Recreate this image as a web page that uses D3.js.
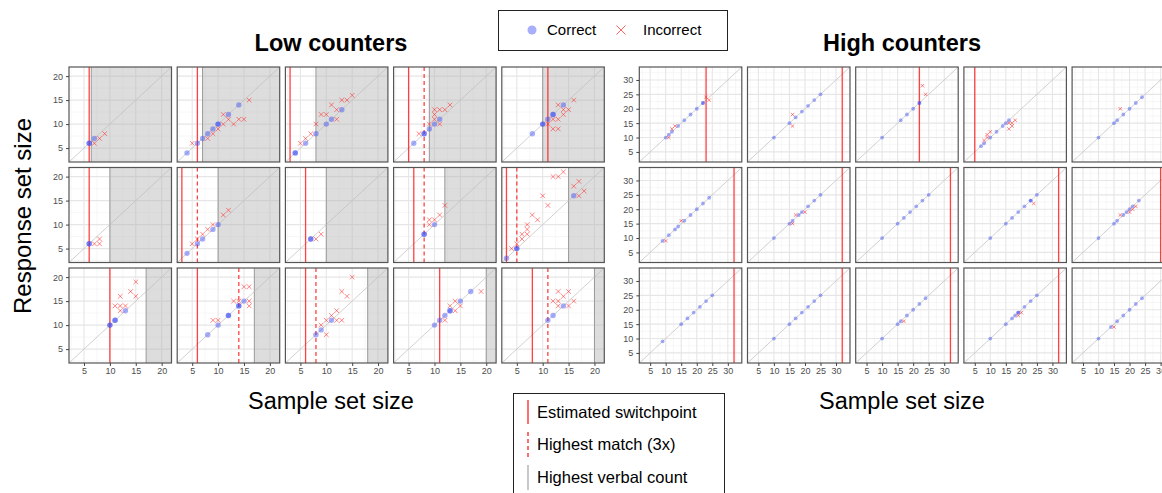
<!DOCTYPE html>
<html>
<head>
<meta charset="utf-8">
<script src="https://cdn.jsdelivr.net/npm/d3@7"></script>
<style>
  body { margin: 0; background: #fff; }
  svg { font-family: "Liberation Sans", Arial, sans-serif; }
</style>
</head>
<body>
<svg id="chart" width="1162" height="493"></svg>
<script>
// ---- data: Low counters (15 panels, row by row) ----
const lowSwitch = [6, 6, 3, 5, 11, 6, 3, 6, 6, 3, 10, 6, 6, 11, 8];
const lowMatch = [null, null, null, 8, null, null, 6, null, 8, 5, null, 14, 8, null, 11];
const lowVerbal = [6.4, 7, 8, 9, 10, 10, 10, 10, 12, 15, 17, 17, 18, 20, 20];
const lowCorrect = [
  [[6,6],[6,6],[7,7]],
  [[4,4],[6,6],[7,7],[8,8],[9,9],[10,10],[10,10],[12,12],[14,14]],
  [[4,4],[4,4],[6,6],[8,8],[10,10],[11,11],[13,13]],
  [[6,6],[8,8],[8,8],[9,9],[10,10],[11,11]],
  [[8,8],[10,10],[10,10],[11,11],[12,12],[12,12],[14,14]],
  [[6,6],[6,6]],
  [[4,4],[6,6],[7,7],[9,9],[10,10]],
  [[7,7],[7,7]],
  [[8,8],[8,8],[10,10]],
  [[3,3],[5,5],[5,5],[16,16]],
  [[10,10],[10,10],[11,11],[11,11],[13,13]],
  [[8,8],[10,10],[12,12],[12,12],[14,14],[14,14],[15,15]],
  [[8,8],[9,9],[11,11]],
  [[10,10],[11,11],[12,12],[13,13],[13,13],[15,15],[17,17]],
  [[11,11],[12,12],[14,14]]
];
const lowIncorrect = [
  [[7,6],[8,7],[9,8]],
  [[5,6],[8,7],[9,8],[10,9],[11,10],[11,12],[12,11],[13,10],[14,11],[15,11],[16,15]],
  [[5,6],[6,7],[7,8],[8,10],[9,12],[10,12],[11,14],[12,13],[12,11],[13,15],[14,15],[15,16]],
  [[7,8],[9,10],[10,11],[11,10],[10,12],[10,13],[11,13],[12,13],[13,14]],
  [[11,10],[12,11],[13,11],[12,9],[13,9],[13,14],[14,12],[14,13],[15,13],[16,15]],
  [[7,6],[8,6],[8,7]],
  [[5,6],[6,7],[7,8],[8,9],[9,10],[11,12],[12,13]],
  [[8,7],[9,8]],
  [[9,10],[9,11],[10,11],[11,12],[12,14]],
  [[4,5],[5,6],[6,7],[6,8],[7,8],[7,9],[7,10],[8,12],[9,11],[10,16],[11,14],[12,20],[13,20],[14,21],[16,18],[17,19],[17,16],[18,17]],
  [[11,14],[12,14],[13,14],[12,13],[12,16],[14,17],[15,19],[15,16]],
  [[9,11],[10,11],[13,15],[14,15],[15,18],[16,18],[16,15],[16,14]],
  [[9,10],[10,11],[10,8],[11,12],[12,13],[12,11],[13,11],[13,17],[14,16],[15,20]],
  [[12,11],[13,14],[14,15],[14,13],[15,14],[19,17]],
  [[12,15],[13,17],[13,15],[13,14],[14,16],[15,17],[15,14],[16,15]]
];

// ---- data: High counters ----
const highSwitch = [23, 32, 22, 5, 33, 32, 32, 32, 32, 30, 32, 32, 32, 32, 33];
const highCorrect = [
  [[10,10],[11,11],[12,12],[14,14],[16,16],[18,18],[20,20],[22,22],[22,22]],
  [[10,10],[15,15],[17,17],[19,19],[21,21],[23,23],[25,25]],
  [[10,10],[16,16],[18,18],[20,20],[22,22],[22,22]],
  [[7,7],[8,8],[10,10],[12,12],[14,14],[15,15],[16,16]],
  [[10,10],[15,15],[16,16],[18,18],[20,20],[22,22],[24,24]],
  [[9,9],[11,11],[13,13],[14,14],[16,16],[18,18],[20,20],[22,22],[24,24]],
  [[10,10],[15,15],[16,16],[18,18],[19,19],[21,21],[23,23],[25,25]],
  [[10,10],[15,15],[17,17],[19,19],[21,21],[23,23],[25,25]],
  [[10,10],[15,15],[17,17],[19,19],[21,21],[23,23],[23,23],[25,25]],
  [[10,10],[15,15],[16,16],[18,18],[19,19],[20,20],[21,21],[23,23]],
  [[9,9],[15,15],[17,17],[19,19],[21,21],[23,23],[25,25]],
  [[10,10],[15,15],[17,17],[19,19],[21,21],[23,23],[25,25]],
  [[10,10],[15,15],[16,16],[18,18],[20,20],[22,22],[24,24]],
  [[10,10],[15,15],[17,17],[18,18],[19,19],[19,19],[21,21],[23,23],[25,25]],
  [[10,10],[14,14],[16,16],[18,18],[20,20],[22,22],[24,24]]
];
const highIncorrect = [
  [[11,10],[12,13],[13,14],[23,24],[24,23]],
  [[16,18],[16,14]],
  [[23,28],[24,25]],
  [[8,9],[9,10],[9,11],[10,12],[16,15],[17,15],[17,14],[16,13],[18,16]],
  [[17,20]],
  [[10,9],[15,16]],
  [[16,15],[17,18],[20,19]],
  [],
  [[24,22]],
  [[17,18],[20,19],[21,20],[22,21]],
  [],
  [],
  [[17,16]],
  [[19,18],[20,19]],
  [[15,14]]
];

const lowTicks = [5, 10, 15, 20];
const highTicks = [5, 10, 15, 20, 25, 30];

// ---- layout ----
const svg = d3.select("#chart");
const panelW = 102.5;
const panelH = 95;
const stepX = 108.2;
const rowTops = [67, 167.5, 268];
const blue = "#3b4cf5";
const red = "#ff2020";

let clipId = 0;

function drawGroup(opt) {
  const x = d3.scaleLinear().domain(opt.domain).range([0, panelW]);
  const y = d3.scaleLinear().domain(opt.domain).range([panelH, 0]);
  const minor = opt.ticks.map((t) => t + 2.5).concat([opt.ticks[0] - 2.5]);

  for (let i = 0; i < 15; i++) {
    const row = Math.floor(i / 5);
    const col = i % 5;
    const g = svg
      .append("g")
      .attr("transform", `translate(${opt.left + col * stepX},${rowTops[row]})`);

    const id = "clip" + clipId++;
    g.append("clipPath").attr("id", id)
      .append("rect").attr("width", panelW).attr("height", panelH);
    const p = g.append("g").attr("clip-path", `url(#${id})`);

    p.append("rect").attr("width", panelW).attr("height", panelH).attr("fill", "#fff");

    // grid
    p.selectAll(".gminx").data(minor).enter().append("line")
      .attr("x1", (d) => x(d)).attr("x2", (d) => x(d))
      .attr("y1", 0).attr("y2", panelH)
      .attr("stroke", "#f2f2f2").attr("stroke-width", 0.6);
    p.selectAll(".gminy").data(minor).enter().append("line")
      .attr("y1", (d) => y(d)).attr("y2", (d) => y(d))
      .attr("x1", 0).attr("x2", panelW)
      .attr("stroke", "#f2f2f2").attr("stroke-width", 0.6);
    p.selectAll(".gmajx").data(opt.ticks).enter().append("line")
      .attr("x1", (d) => x(d)).attr("x2", (d) => x(d))
      .attr("y1", 0).attr("y2", panelH)
      .attr("stroke", "#e6e6e6").attr("stroke-width", 1.1);
    p.selectAll(".gmajy").data(opt.ticks).enter().append("line")
      .attr("y1", (d) => y(d)).attr("y2", (d) => y(d))
      .attr("x1", 0).attr("x2", panelW)
      .attr("stroke", "#e6e6e6").attr("stroke-width", 1.1);

    // highest verbal count
    if (opt.verbal && opt.verbal[i] != null) {
      const v = opt.verbal[i];
      p.append("rect")
        .attr("x", x(v)).attr("y", 0)
        .attr("width", panelW - x(v)).attr("height", panelH)
        .attr("fill", "#b3b3b3").attr("fill-opacity", 0.45);
      p.append("line")
        .attr("x1", x(v)).attr("x2", x(v)).attr("y1", 0).attr("y2", panelH)
        .attr("stroke", "#999").attr("stroke-width", 1);
    }

    // diagonal
    p.append("line")
      .attr("x1", x(opt.domain[0])).attr("y1", y(opt.domain[0]))
      .attr("x2", x(opt.domain[1])).attr("y2", y(opt.domain[1]))
      .attr("stroke", "#bdbdbd").attr("stroke-width", 0.7);

    // switchpoint + highest match
    if (opt.switchp[i] != null) {
      p.append("line")
        .attr("x1", x(opt.switchp[i])).attr("x2", x(opt.switchp[i]))
        .attr("y1", 0).attr("y2", panelH)
        .attr("stroke", red).attr("stroke-opacity", 0.85).attr("stroke-width", 1.3);
    }
    if (opt.match && opt.match[i] != null) {
      p.append("line")
        .attr("x1", x(opt.match[i])).attr("x2", x(opt.match[i]))
        .attr("y1", 0).attr("y2", panelH)
        .attr("stroke", red).attr("stroke-opacity", 0.85).attr("stroke-width", 1.3)
        .attr("stroke-dasharray", "4,3");
    }

    // points
    p.selectAll(".ok").data(opt.correct[i]).enter().append("circle")
      .attr("cx", (d) => x(d[0])).attr("cy", (d) => y(d[1]))
      .attr("r", opt.r)
      .attr("fill", blue).attr("fill-opacity", 0.45);
    const s = opt.s;
    p.selectAll(".bad").data(opt.incorrect[i]).enter().append("path")
      .attr("transform", (d) => `translate(${x(d[0])},${y(d[1])})`)
      .attr("d", `M${-s},${-s}L${s},${s}M${-s},${s}L${s},${-s}`)
      .attr("stroke", red).attr("stroke-opacity", 0.6).attr("stroke-width", 0.9)
      .attr("fill", "none");

    // border
    g.append("rect").attr("width", panelW).attr("height", panelH)
      .attr("fill", "none").attr("stroke", "#555").attr("stroke-width", 1.2);

    // axes
    if (col === 0) {
      const ay = g.append("g").call(d3.axisLeft(y).tickValues(opt.ticks).tickSize(3).tickPadding(3));
      styleAxis(ay);
    }
    if (row === 2) {
      const ax = g.append("g").attr("transform", `translate(0,${panelH})`)
        .call(d3.axisBottom(x).tickValues(opt.ticks).tickSize(3).tickPadding(2));
      styleAxis(ax);
    }
  }
}

function styleAxis(a) {
  a.select(".domain").remove();
  a.selectAll(".tick line").attr("stroke", "#444");
  a.selectAll(".tick text").attr("fill", "#4d4d4d").attr("font-size", 9)
    .attr("font-family", '"Liberation Sans", Arial, sans-serif');
}

drawGroup({
  left: 69, domain: [2.1, 21.9], ticks: lowTicks,
  switchp: lowSwitch, match: lowMatch, verbal: lowVerbal,
  correct: lowCorrect, incorrect: lowIncorrect, r: 2.7, s: 2.3
});
drawGroup({
  left: 639.3, domain: [1.5, 34.5], ticks: highTicks,
  switchp: highSwitch, match: null, verbal: null,
  correct: highCorrect, incorrect: highIncorrect, r: 1.9, s: 1.7
});

// ---- titles and axis labels ----
svg.append("text").attr("x", 331).attr("y", 51).attr("text-anchor", "middle")
  .attr("font-size", 23.5).attr("font-weight", "bold").text("Low counters");
svg.append("text").attr("x", 902).attr("y", 51).attr("text-anchor", "middle")
  .attr("font-size", 23.5).attr("font-weight", "bold").text("High counters");
svg.append("text").attr("transform", "translate(31,216) rotate(-90)")
  .attr("text-anchor", "middle").attr("font-size", 24).text("Response set size");
svg.append("text").attr("x", 331).attr("y", 409).attr("text-anchor", "middle")
  .attr("font-size", 23.5).text("Sample set size");
svg.append("text").attr("x", 902).attr("y", 409).attr("text-anchor", "middle")
  .attr("font-size", 23.5).text("Sample set size");

// ---- top legend ----
const lg = svg.append("g");
lg.append("rect").attr("x", 498.5).attr("y", 10.5).attr("width", 229).attr("height", 40)
  .attr("fill", "#fff").attr("stroke", "#222").attr("stroke-width", 1);
lg.append("circle").attr("cx", 532).attr("cy", 30).attr("r", 4.5)
  .attr("fill", blue).attr("fill-opacity", 0.45);
lg.append("text").attr("x", 547).attr("y", 35).attr("font-size", 15).text("Correct");
lg.append("path").attr("transform", "translate(621,30)")
  .attr("d", "M-4.5,-4.5L4.5,4.5M-4.5,4.5L4.5,-4.5")
  .attr("stroke", red).attr("stroke-opacity", 0.7).attr("stroke-width", 1);
lg.append("text").attr("x", 643).attr("y", 35).attr("font-size", 15).text("Incorrect");

// ---- bottom legend ----
const lb = svg.append("g");
lb.append("rect").attr("x", 513.5).attr("y", 393.5).attr("width", 211).attr("height", 120)
  .attr("fill", "#fff").attr("stroke", "#222").attr("stroke-width", 1);
lb.append("line").attr("x1", 528).attr("x2", 528).attr("y1", 400).attr("y2", 424)
  .attr("stroke", red).attr("stroke-width", 1.3);
lb.append("text").attr("x", 537).attr("y", 418).attr("font-size", 16.5).text("Estimated switchpoint");
lb.append("line").attr("x1", 528).attr("x2", 528).attr("y1", 432).attr("y2", 457)
  .attr("stroke", red).attr("stroke-width", 1.3).attr("stroke-dasharray", "4,3");
lb.append("text").attr("x", 537).attr("y", 450).attr("font-size", 16.5).text("Highest match (3x)");
lb.append("line").attr("x1", 528).attr("x2", 528).attr("y1", 465).attr("y2", 490)
  .attr("stroke", "#aaa").attr("stroke-width", 1.3);
lb.append("text").attr("x", 537).attr("y", 483).attr("font-size", 16.5).text("Highest verbal count");
</script>
</body>
</html>
